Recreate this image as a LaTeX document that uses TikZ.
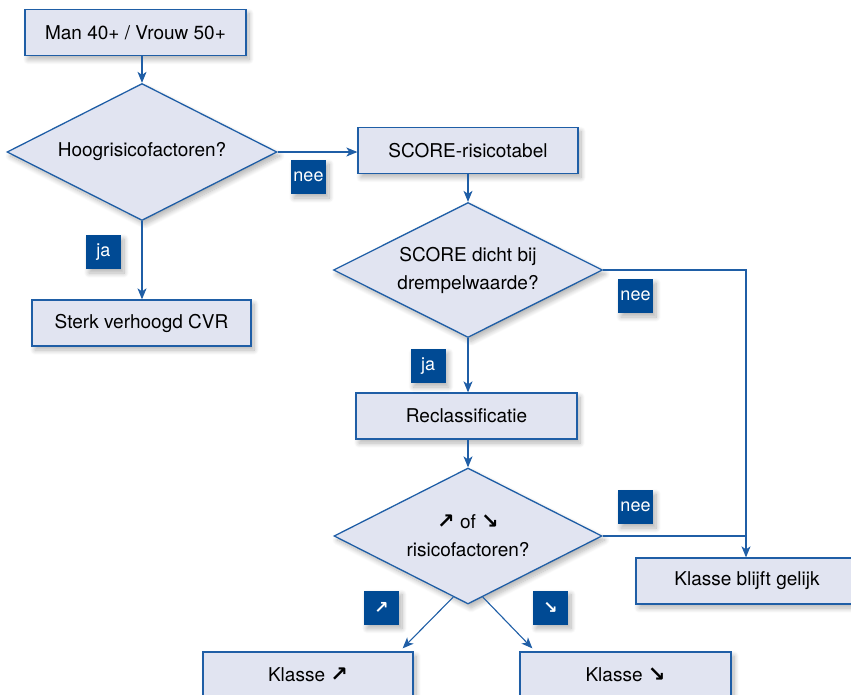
\documentclass[tikz,border=0pt]{standalone}
\usepackage{fontspec}
\setmainfont{TeX Gyre Heros}
\newfontfamily\arrfont{DejaVu Sans}
\newcommand{\uparr}{{\arrfont\bfseries\fontsize{21}{21}\selectfont ↗}}
\newcommand{\dnarr}{{\arrfont\bfseries\fontsize{21}{21}\selectfont ↘}}
\usetikzlibrary{shapes.geometric,arrows.meta,calc,shadows.blur}
\definecolor{boxfill}{HTML}{E1E4F1}
\definecolor{lineblue}{HTML}{1F5EA6}
\definecolor{labelblue}{HTML}{004A94}
\tikzset{
  softshadow/.style={blur shadow={shadow xshift=3pt, shadow yshift=-4pt, shadow blur steps=10, shadow blur radius=5pt, shadow opacity=30}},
  flowbox/.style={draw=lineblue, line width=1.3pt, fill=boxfill, minimum height=46pt, inner sep=0pt, font=\fontsize{19}{28}\selectfont, softshadow},
  decision/.style={flowbox, diamond, minimum height=136pt},
  dtext/.style={label={[align=center, font=\fontsize{19}{28}\selectfont]center:#1}},
  tag/.style={fill=labelblue, text=white, minimum width=35pt, minimum height=34pt, inner sep=0pt, font=\fontsize{18}{20}\selectfont, softshadow},
  conn/.style={draw=lineblue, line width=1.1pt},
  arr/.style={conn, -{Stealth[length=11pt,width=9pt,inset=3pt]}},
}
\begin{document}
\begin{tikzpicture}[x=1pt,y=-1pt]
\useasboundingbox (0,0) rectangle (851,694);
\clip (0,0) rectangle (851,694);
% boxes
\node[flowbox, minimum width=221pt] (start) at (135.5,32.5) {Man 40+ / Vrouw 50+};
\node[decision, minimum width=270pt, minimum height=137pt, dtext={Hoogrisicofactoren?}] (d1) at (142,152) {};
\node[flowbox, minimum width=219pt] (sterk) at (141.5,323) {Sterk verhoogd CVR};
\node[flowbox, minimum width=220pt] (score) at (468,150.5) {SCORE-risicotabel};
\node[decision, minimum width=269pt, minimum height=135pt, dtext={SCORE dicht bij\\drempelwaarde?}] (d2) at (468,270) {};
\node[flowbox, minimum width=221pt] (reclass) at (466.5,416) {Reclassificatie};
\node[decision, minimum width=268pt, minimum height=136pt, dtext={\uparr{} of \dnarr\\risicofactoren?}] (d3) at (468,536) {};
\node[flowbox, minimum width=222pt] (gelijk) at (747,581) {Klasse blijft gelijk};
\node[flowbox, minimum width=210pt] (kup) at (308,675) {Klasse \uparr};
\node[flowbox, minimum width=211pt] (kdown) at (625.5,675) {Klasse \dnarr};
% connectors
\draw[arr] (d1.north |- start.south) -- (d1.north);
\draw[arr] (d1.east) -- (score.west |- d1.east);
\draw[arr] (d1.south) -- (sterk.north -| d1.south);
\draw[arr] (score.south -| d2.north) -- (d2.north);
\draw[arr] (d2.south) -- (reclass.north -| d2.south);
\draw[arr] (reclass.south -| d3.north) -- (d3.north);
\draw[arr] (d2.east) -| ($(gelijk.north)+(-1,0)$);
\draw[conn] (d3.east) -- ($(gelijk.north |- d3.east)+(-1,0)$);
\draw[arr] ($(d3.south)!0.11!(d3.west)$) -- ($(kup.north east)+(-11,-3)$);
\draw[arr] ($(d3.south)!0.11!(d3.east)$) -- ($(kdown.north west)+(13,-3)$);
% labels
\node[tag] (nee1) at (308.5,177) {nee};
\node[tag] (ja1) at (103.5,252) {ja};
\node[tag] (nee2) at (635.5,296) {nee};
\node[tag] (ja2) at (428,366) {ja};
\node[tag] (nee3) at (635.5,507) {nee};
\node[tag, font=\arrfont\bfseries\fontsize{17}{18}\selectfont] (tup) at (381.5,607.5) {↗};
\node[tag, font=\arrfont\bfseries\fontsize{17}{18}\selectfont] (tdown) at (550.5,607.5) {↘};
\end{tikzpicture}
\end{document}
